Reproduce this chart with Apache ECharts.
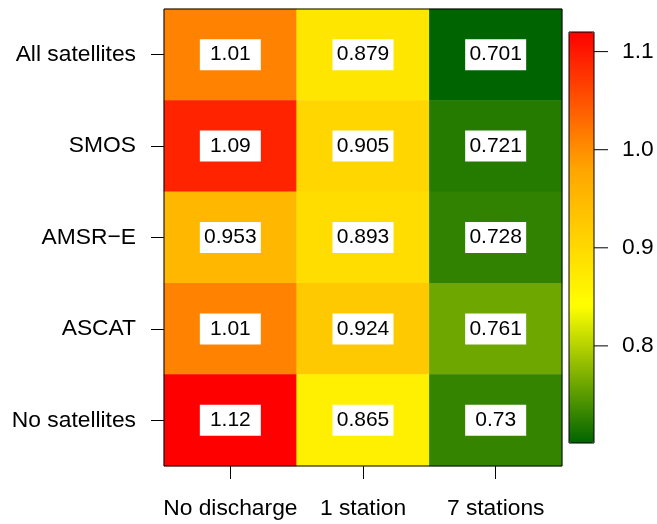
<!DOCTYPE html>
<html>
<head>
<meta charset="utf-8">
<script src="https://cdn.jsdelivr.net/npm/echarts@6/dist/echarts.min.js"></script>
<style>
  html, body { margin: 0; padding: 0; background: #fff; }
  #chart { width: 657px; height: 524px; }
</style>
</head>
<body>
<div id="chart"></div>
<script>
// Columns: discharge assimilation setup; rows: satellite soil moisture products
const columns = ['No discharge', '1 station', '7 stations'];
const rows = ['All satellites', 'SMOS', 'AMSR\u2212E', 'ASCAT', 'No satellites'];

const allSatellites = [1.01, 0.879, 0.701];
const smos = [1.09, 0.905, 0.721];
const amsrE = [0.953, 0.893, 0.728];
const ascat = [1.01, 0.924, 0.761];
const noSatellites = [1.12, 0.865, 0.73];

const colorbarTicks = [0.8, 0.9, 1.0, 1.1];

const rowValues = [allSatellites, smos, amsrE, ascat, noSatellites];
const cells = [];
rowValues.forEach((vals, r) => {
  vals.forEach((v, c) => cells.push([c, r, v]));
});
const flat = rowValues.flat();
const vMin = Math.min(...flat);
const vMax = Math.max(...flat);

const FONT = '"Liberation Sans", Arial, Helvetica, sans-serif';
const AXIS_FS = 22.8;

const chart = echarts.init(document.getElementById('chart'), null, { renderer: 'canvas' });
chart.setOption({
  animation: false,
  backgroundColor: '#ffffff',
  textStyle: { fontFamily: FONT, color: '#000' },
  grid: [
    { left: 164, top: 9, width: 398, height: 457, show: true, borderColor: '#000', borderWidth: 1, z: 5, containLabel: false },
    { left: 569, top: 32, width: 25, height: 411, show: true, borderColor: '#000', borderWidth: 1, z: 10, containLabel: false }
  ],
  xAxis: [
    {
      type: 'category', gridIndex: 0, data: columns, position: 'bottom',
      axisLine: { show: false },
      axisTick: { show: true, interval: 0, alignWithLabel: true, length: 13, lineStyle: { color: '#000', width: 1 } },
      axisLabel: { interval: 0, fontSize: AXIS_FS, color: '#000', margin: 31, fontFamily: FONT },
      splitLine: { show: false }
    },
    { type: 'value', gridIndex: 1, show: false, min: 0, max: 1 }
  ],
  yAxis: [
    {
      type: 'category', gridIndex: 0, data: rows, inverse: true,
      axisLine: { show: false },
      axisTick: { show: true, interval: 0, alignWithLabel: true, length: 13, lineStyle: { color: '#000', width: 1 } },
      axisLabel: { interval: 0, fontSize: AXIS_FS, color: '#000', margin: 28, fontFamily: FONT },
      splitLine: { show: false }
    },
    {
      type: 'value', gridIndex: 1, position: 'right', min: vMin, max: vMax,
      axisLine: { show: false },
      axisTick: { show: false },
      axisLabel: {
        fontSize: AXIS_FS, color: '#000', margin: 28, fontFamily: FONT,
        customValues: colorbarTicks,
        formatter: v => v.toFixed(1)
      },
      splitLine: { show: false }
    }
  ],
  visualMap: {
    type: 'continuous',
    min: vMin, max: vMax,
    dimension: 2,
    seriesIndex: 0,
    calculable: false,
    hoverLink: false,
    orient: 'vertical',
    left: 569, top: 32,
    itemWidth: 25, itemHeight: 411,
    padding: 0,
    text: null,
    inRange: { color: ['#006400', '#FFFF00', '#FFA500', '#FF0000'] }
  },
  series: [
    {
      type: 'heatmap',
      xAxisIndex: 0, yAxisIndex: 0,
      data: cells,
      label: {
        show: true,
        formatter: p => String(p.data[2]),
        fontSize: 21, color: '#000', fontFamily: FONT,
        backgroundColor: '#fff',
        width: 53, height: 23, lineHeight: 23,
        padding: [4, 4], align: 'center'
      },
      emphasis: { disabled: true },
      itemStyle: { borderWidth: 0 }
    },
    {
      // colour-bar tick marks, placed on the colour-bar value axis
      type: 'custom',
      xAxisIndex: 1, yAxisIndex: 1,
      data: colorbarTicks.map(v => [1, v]),
      silent: true,
      z: 12,
      renderItem: (params, api) => {
        const p = api.coord([api.value(0), api.value(1)]);
        return {
          type: 'line',
          shape: { x1: p[0], y1: p[1], x2: p[0] + 14, y2: p[1] },
          style: { stroke: '#000', lineWidth: 1 }
        };
      }
    }
  ]
});
</script>
</body>
</html>
